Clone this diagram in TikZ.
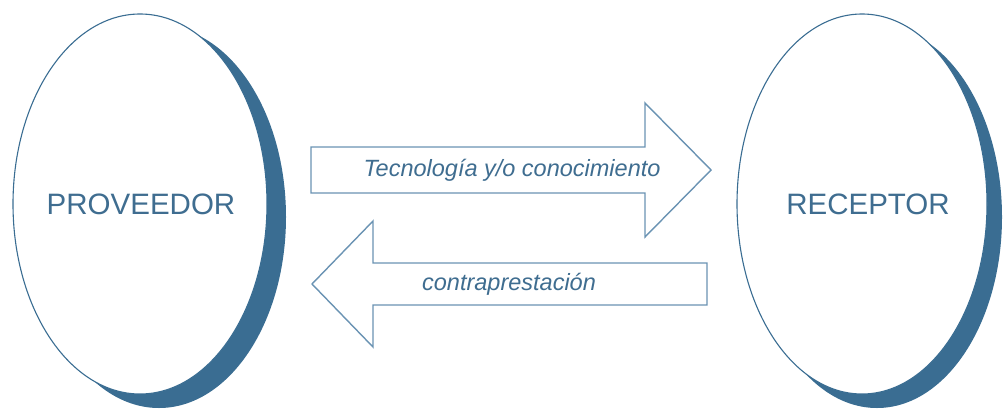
\documentclass[tikz,border=0pt]{standalone}
\usepackage{fontspec}
\setmainfont{Liberation Sans}
\definecolor{shadowblue}{HTML}{3A6D92}
\definecolor{textblue}{HTML}{3F6D90}
\definecolor{arrowblue}{HTML}{6A93B3}
\begin{document}
\begin{tikzpicture}[x=1pt,y=-1pt,
  shadowell/.style={fill=shadowblue,draw=none},
  whiteell/.style={fill=white,draw=shadowblue,line width=1.1pt},
  party/.style={text=textblue,font=\fontsize{29.5}{32}\selectfont},
  flowarrow/.style={fill=white,draw=arrowblue,line width=1.4pt,line join=miter},
  flowlabel/.style={text=textblue,font=\fontsize{23.5}{26}\itshape\selectfont}]
\useasboundingbox (0,0) rectangle (1003,410);
% left ellipse
\fill[shadowell] (159,217) ellipse [x radius=127, y radius=191];
\draw[whiteell] (140,204) ellipse [x radius=127, y radius=190];
\node[party] (prov) at (141,204) {PROVEEDOR};
% right ellipse
\fill[shadowell] (877,217) ellipse [x radius=125, y radius=191];
\draw[whiteell] (862,204) ellipse [x radius=125, y radius=190];
\node[party] (rec) at (868,204) {RECEPTOR};
% right arrow
\draw[flowarrow] (311,147) -- (645,147) -- (645,103) -- (711,170) -- (645,237) -- (645,193) -- (311,193) -- cycle;
\node[flowlabel] (tec) at (512,170) {Tecnología y/o conocimiento};
% left arrow
\draw[flowarrow] (707,263) -- (373,263) -- (373,221) -- (312,284) -- (373,347) -- (373,305) -- (707,305) -- cycle;
\node[flowlabel] (contra) at (509,284) {contraprestación};
\end{tikzpicture}
\end{document}
